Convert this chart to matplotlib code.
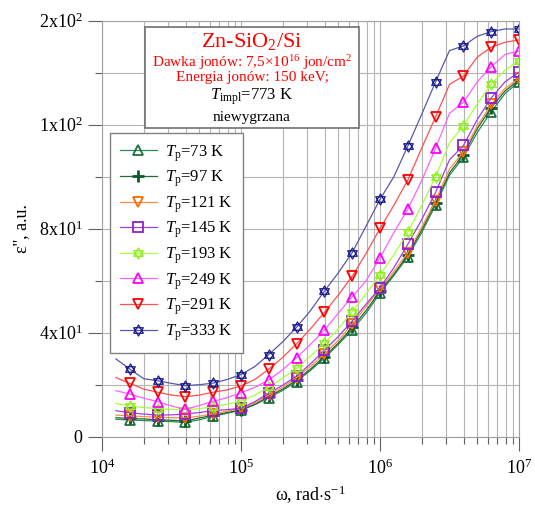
import numpy as np
import matplotlib
matplotlib.use("Agg")
import matplotlib.pyplot as plt
import matplotlib.path as mpath
from matplotlib.patches import Rectangle
from matplotlib.ticker import FixedLocator, FixedFormatter, LogLocator, NullFormatter

plt.rcParams['font.family'] = ['Liberation Serif', 'DejaVu Serif']
plt.rcParams['mathtext.fontset'] = 'custom'
plt.rcParams['mathtext.rm'] = 'Liberation Serif'
plt.rcParams['mathtext.it'] = 'Liberation Serif:italic'

# log10 of omega, 0.1 decade steps from 10^4.1 to 10^7
logw = np.round(np.arange(4.1, 7.01, 0.1), 1)
omega = 10 ** logw

eps_73 = [6.7, 6.4, 6.2, 6.0, 5.8, 5.5, 6.5, 7.8, 9.0, 10.2, 12.3, 15.0, 17.8, 21.2, 25.5,
          30.2, 35.5, 41.0, 47.5, 55.2, 62.0, 69.2, 78.5, 89.1, 100.5, 107.5, 117.0, 125.0, 132.0, 136.5]
eps_97 = [7.3, 7.0, 6.8, 6.5, 6.3, 6.0, 7.2, 8.2, 9.3, 10.3, 12.5, 15.5, 18.3, 21.8, 26.0,
          30.8, 36.0, 42.0, 48.5, 56.0, 62.5, 69.9, 79.5, 90.0, 101.5, 108.5, 118.5, 126.5, 133.0, 137.2]
eps_121 = [8.3, 8.0, 7.7, 7.5, 7.3, 7.2, 7.9, 8.7, 9.8, 10.9, 13.0, 16.0, 19.0, 22.7, 27.0,
           31.8, 37.0, 43.3, 50.0, 57.0, 63.5, 70.8, 80.5, 90.8, 103.0, 109.5, 119.5, 127.8, 134.0, 137.8]
eps_145 = [10.0, 9.2, 8.7, 8.3, 8.4, 8.7, 9.3, 10.0, 10.4, 10.9, 13.5, 16.7, 19.8, 23.3, 28.0,
           33.3, 38.5, 44.5, 51.0, 57.3, 65.0, 74.0, 83.5, 94.0, 106.5, 112.0, 122.0, 130.3, 136.5, 140.2]
eps_193 = [12.8, 11.8, 11.2, 10.8, 10.5, 10.3, 10.8, 11.5, 12.5, 13.7, 16.0, 19.0, 22.5, 26.3, 31.0,
           35.9, 41.5, 48.1, 55.0, 62.2, 70.0, 78.6, 89.0, 100.0, 113.0, 119.6, 128.0, 135.6, 141.0, 144.4]
eps_249 = [17.7, 16.4, 14.8, 13.5, 11.8, 10.5, 12.0, 13.6, 15.0, 16.9, 19.0, 21.8, 25.8, 30.4, 35.5,
           41.0, 47.5, 53.8, 60.0, 68.8, 78.5, 87.5, 98.5, 111.0, 124.4, 128.6, 136.5, 142.3, 147.0, 148.3]
eps_291 = [22.7, 20.5, 18.3, 17.1, 16.0, 15.4, 16.0, 17.1, 18.0, 19.5, 22.0, 26.0, 30.5, 35.7, 41.5,
           47.8, 54.5, 61.7, 70.5, 80.1, 89.0, 98.7, 111.0, 123.0, 135.5, 138.7, 146.0, 149.8, 151.7, 152.6]
eps_333 = [29.9, 26.0, 22.3, 21.5, 20.5, 19.6, 20.0, 20.6, 22.0, 23.9, 27.0, 31.6, 36.5, 42.1, 48.5,
           56.0, 63.0, 70.8, 81.0, 91.3, 100.0, 111.8, 124.0, 136.5, 148.5, 150.3, 154.0, 155.8, 156.8, 156.8]

temps = [73, 97, 121, 145, 193, 249, 291, 333]
series = [eps_73, eps_97, eps_121, eps_145, eps_193, eps_249, eps_291, eps_333]

# star of David made of two triangles
up = [(0, 1), (0.866, -0.5), (-0.866, -0.5), (0, 1)]
down = [(0, -1), (0.866, 0.5), (-0.866, 0.5), (0, -1)]
C = mpath.Path
hexagram = mpath.Path(up + down, [C.MOVETO, C.LINETO, C.LINETO, C.CLOSEPOLY] * 2)

styles = [
    dict(color='#2e8b57', mc='#1e7040', marker='^', ms=6.5, mew=1.3),
    dict(color='#1f6b3a', mc='#0b5a2a', marker='P', ms=6.5, mew=2.0),
    dict(color='#ff8c40', mc='#ff6a00', marker='v', ms=6.5, mew=1.3),
    dict(color='#a040e0', mc='#9020c8', marker='s', ms=6.5, mew=1.3),
    dict(color='#a8ff40', mc='#90ee20', marker=hexagram, ms=8, mew=0.9),
    dict(color='#ff60ff', mc='#ff00ff', marker='^', ms=7, mew=1.3),
    dict(color='#ff5050', mc='#ff0000', marker='v', ms=7, mew=1.3),
    dict(color='#5858a8', mc='#1c1c90', marker=hexagram, ms=8, mew=0.9),
]

fig = plt.figure(figsize=(5.35, 5.08), dpi=100)
ax = fig.add_axes([0.1907, 0.1404, 0.7794, 0.8189])

for t, y, st in zip(temps, series, styles):
    if st['marker'] == 'P':
        ax.plot(omega, y, color=st['color'], lw=0.9, marker='+', ms=8, mew=st['mew'],
                mec=st['mc'], markevery=(1, 2), label=r'$T_\mathrm{p}$=%d K' % t)
    else:
        ax.plot(omega, y, color=st['color'], lw=0.9, marker=st['marker'], ms=st['ms'],
                mfc='none', mec=st['mc'], mew=st['mew'], markevery=(1, 2),
                label=r'$T_\mathrm{p}$=%d K' % t)

ax.set_xscale('log')
ax.set_xlim(1e4, 1e7)
ax.set_ylim(0, 160)

ax.xaxis.set_major_locator(LogLocator(base=10, numticks=10))
ax.xaxis.set_minor_locator(LogLocator(base=10, subs=np.arange(2, 10), numticks=20))
ax.xaxis.set_minor_formatter(NullFormatter())

ax.yaxis.set_major_locator(FixedLocator([0, 40, 80, 120, 160]))
ax.yaxis.set_major_formatter(FixedFormatter(['0', r'4x10$^1$', r'8x10$^1$', r'1x10$^2$', r'2x10$^2$']))
ax.yaxis.set_minor_locator(FixedLocator([20, 60, 100, 140]))

ax.grid(True, which='both', color='#b4b4b4', lw=0.8)
ax.set_axisbelow(True)
for s in ax.spines.values():
    s.set_color('#a0a0a0')
    s.set_linewidth(0.8)

ax.tick_params(which='major', length=10, width=0.8, color='#606060', labelsize=13, pad=4)
ax.tick_params(which='minor', length=5, width=0.8, color='#606060')
ax.tick_params(axis='x', which='major', pad=6)

ax.set_xlabel(r'ω, rad$\cdot$s$^{-1}$', fontsize=13, labelpad=4)
ax.set_ylabel("ε'', a.u.", fontsize=13, labelpad=6)

leg = ax.legend(loc='upper left', bbox_to_anchor=(0.019, 0.730), borderaxespad=0,
                fontsize=12, handlelength=2.2, labelspacing=0.3, fancybox=False,
                framealpha=1, edgecolor='#808080', borderpad=0.6, handletextpad=0.5)
leg.get_frame().set_linewidth(1.0)

# annotation box
W, H = 535.0, 508.0
fig.patches.append(Rectangle((145 / W, 1 - 128 / H), 214 / W, 101 / H, transform=fig.transFigure,
                             facecolor='white', edgecolor='#707070', lw=1.2, zorder=5))
cx = 252 / W
fig.text(cx, 1 - 41 / H, r'Zn-SiO$_2$/Si', color='red', fontsize=16, ha='center', va='center', zorder=6)
fig.text(cx, 1 - 63 / H, r'Dawka jonów: 7,5$\times$10$^{16}$ jon/cm$^2$', color='red', fontsize=11,
         ha='center', va='center', zorder=6)
fig.text(cx, 1 - 78 / H, 'Energia jonów: 150 keV;', color='red', fontsize=11,
         ha='center', va='center', zorder=6)
fig.text(cx, 1 - 97 / H, r'$T_\mathrm{impl}$=773 K', color='black', fontsize=12,
         ha='center', va='center', zorder=6)
fig.text(cx, 1 - 117 / H, 'niewygrzana', color='black', fontsize=11,
         ha='center', va='center', zorder=6)

fig.savefig('out.png', dpi=100)
